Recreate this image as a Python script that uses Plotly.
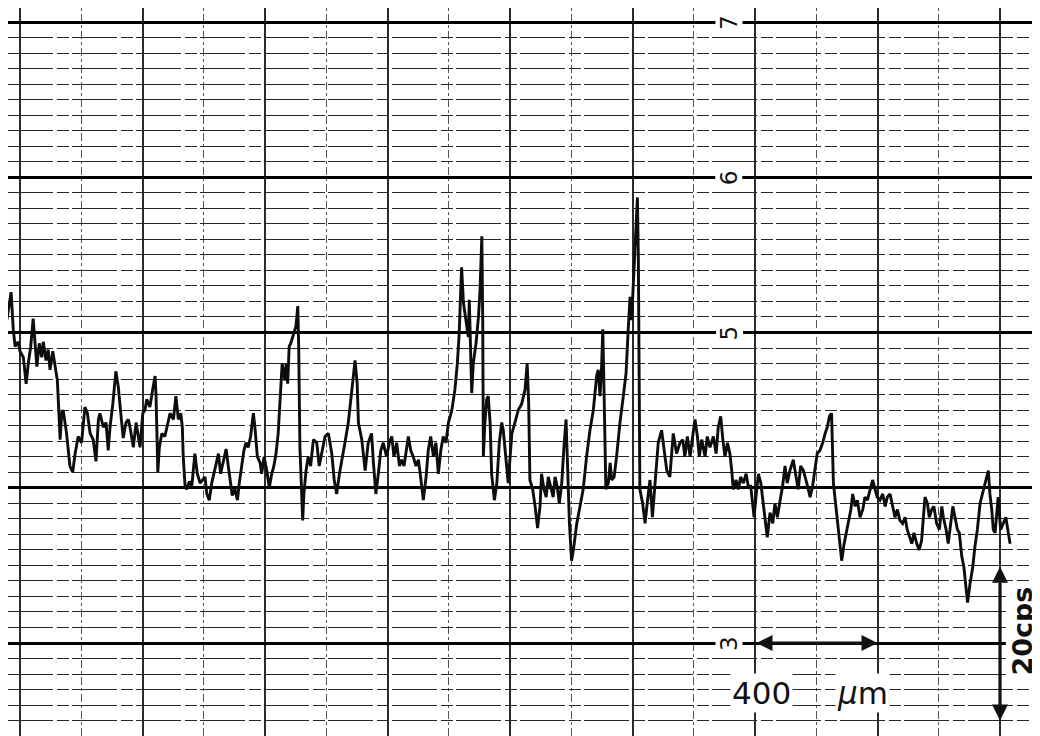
import plotly.graph_objects as go

# Trace: position along the scan (micrometres) and recorder reading (chart units)
position_um = [
    -43, -29, -22, -16, -6, 0, 11, 20, 27, 35, 43, 49, 55, 63, 71, 76, 85, 92, 98, 107,
    114, 122, 128, 131, 136, 141, 152, 163, 172, 180, 190, 201, 212, 220, 229, 239, 248, 256, 261, 272,
    281, 288, 294, 303, 313, 321, 329, 337, 346, 354, 361, 370, 379, 386, 392, 401, 408, 414, 424, 433,
    441, 444, 450, 455, 463, 473, 484, 490, 501, 509, 517, 525, 530, 533, 539, 544, 553, 561, 571, 579,
    588, 597, 604, 610, 618, 626, 631, 640, 648, 655, 664, 673, 680, 686, 693, 702, 710, 716, 724, 731,
    738, 745, 753, 762, 767, 775, 784, 789, 797, 806, 814, 822, 829, 836, 843, 849, 856, 865, 869, 874,
    879, 884, 892, 901, 907, 910, 914, 920, 923, 927, 934, 941, 949, 958, 969, 977, 985, 996, 1007, 1018,
    1026, 1034, 1043, 1050, 1061, 1072, 1083, 1094, 1101, 1105, 1116, 1127, 1137, 1148, 1154, 1162, 1170, 1178, 1186, 1197,
    1206, 1214, 1221, 1230, 1239, 1246, 1254, 1260, 1268, 1276, 1284, 1293, 1301, 1308, 1317, 1326, 1333, 1341, 1350, 1358,
    1366, 1374, 1382, 1391, 1399, 1410, 1420, 1428, 1434, 1439, 1442, 1448, 1456, 1464, 1467, 1472, 1475, 1480, 1489, 1497,
    1502, 1508, 1511, 1513, 1518, 1524, 1529, 1535, 1540, 1549, 1557, 1565, 1573, 1578, 1584, 1589, 1594, 1600, 1606, 1616,
    1627, 1638, 1649, 1656, 1661, 1665, 1674, 1682, 1690, 1698, 1703, 1711, 1718, 1725, 1733, 1741, 1747, 1754, 1761, 1769,
    1776, 1783, 1787, 1794, 1801, 1807, 1818, 1829, 1839, 1850, 1861, 1872, 1883, 1888, 1894, 1899, 1903, 1907, 1910, 1913,
    1921, 1927, 1932, 1940, 1948, 1959, 1970, 1979, 1986, 1992, 1997, 2003, 2010, 2016, 2019, 2022, 2024, 2033, 2041, 2048,
    2057, 2065, 2073, 2084, 2095, 2103, 2112, 2122, 2133, 2144, 2155, 2164, 2171, 2179, 2188, 2199, 2204, 2212, 2218, 2226,
    2237, 2244, 2253, 2264, 2273, 2280, 2288, 2295, 2302, 2310, 2318, 2324, 2329, 2338, 2346, 2353, 2362, 2371, 2378, 2386,
    2392, 2397, 2403, 2411, 2419, 2427, 2436, 2440, 2449, 2458, 2465, 2473, 2482, 2490, 2498, 2505, 2514, 2525, 2534, 2541,
    2549, 2558, 2569, 2580, 2588, 2596, 2603, 2612, 2621, 2629, 2636, 2643, 2650, 2656, 2661, 2667, 2672, 2678, 2683, 2691,
    2698, 2705, 2713, 2719, 2727, 2734, 2743, 2752, 2759, 2767, 2776, 2784, 2792, 2799, 2808, 2817, 2825, 2832, 2841, 2850,
    2857, 2865, 2873, 2882, 2890, 2897, 2904, 2912, 2919, 2928, 2936, 2944, 2949, 2955, 2963, 2969, 2977, 2984, 2993, 3002,
    3010, 3015, 3024, 3031, 3039, 3046, 3053, 3061, 3067, 3075, 3082, 3089, 3094, 3102, 3111, 3118, 3126, 3135, 3145, 3154,
    3162, 3167, 3173, 3178, 3184, 3189, 3194, 3202, 3211, 3219, 3227, 3233,
]
reading = [
    5.08, 5.26, 5.02, 4.91, 4.94, 4.88, 4.84, 4.67, 4.80, 4.91, 5.09, 4.95, 4.78, 4.93, 4.84, 4.94, 4.82, 4.89, 4.76, 4.88,
    4.80, 4.69, 4.44, 4.31, 4.48, 4.50, 4.35, 4.14, 4.10, 4.22, 4.33, 4.29, 4.52, 4.48, 4.35, 4.31, 4.17, 4.44, 4.48, 4.39,
    4.42, 4.24, 4.39, 4.54, 4.75, 4.65, 4.48, 4.32, 4.42, 4.44, 4.37, 4.26, 4.42, 4.33, 4.26, 4.48, 4.50, 4.57, 4.52, 4.63,
    4.72, 4.61, 4.10, 4.26, 4.35, 4.33, 4.44, 4.48, 4.44, 4.59, 4.44, 4.48, 4.39, 4.20, 4.01, 3.99, 4.04, 4.01, 4.22, 4.09,
    4.03, 4.05, 4.07, 3.96, 3.92, 4.03, 4.07, 4.14, 4.22, 4.09, 4.18, 4.25, 4.14, 4.05, 3.95, 3.99, 3.92, 4.03, 4.16, 4.24,
    4.29, 4.26, 4.33, 4.48, 4.39, 4.20, 4.16, 4.09, 4.20, 4.11, 4.00, 4.09, 4.14, 4.22, 4.35, 4.57, 4.80, 4.69, 4.80, 4.67,
    4.91, 4.93, 4.98, 5.04, 5.17, 4.91, 4.26, 3.86, 3.79, 3.96, 4.11, 4.20, 4.14, 4.31, 4.29, 4.14, 4.22, 4.33, 4.35, 4.22,
    4.05, 3.96, 4.09, 4.18, 4.29, 4.42, 4.63, 4.82, 4.67, 4.42, 4.31, 4.11, 4.29, 4.35, 4.16, 3.96, 4.09, 4.24, 4.29, 4.20,
    4.29, 4.33, 4.20, 4.29, 4.14, 4.18, 4.14, 4.22, 4.33, 4.24, 4.20, 4.14, 4.18, 4.07, 3.92, 4.07, 4.24, 4.33, 4.20, 4.29,
    4.09, 4.24, 4.33, 4.29, 4.42, 4.50, 4.63, 4.80, 4.99, 5.27, 5.42, 5.19, 5.08, 4.97, 5.21, 4.84, 4.61, 4.80, 4.93, 5.10,
    5.27, 5.62, 5.06, 4.20, 4.42, 4.57, 4.59, 4.42, 4.09, 3.92, 4.03, 4.29, 4.42, 4.37, 4.26, 4.14, 4.03, 4.20, 4.35, 4.42,
    4.50, 4.54, 4.63, 4.80, 4.54, 4.05, 3.99, 3.88, 3.74, 3.88, 4.09, 3.99, 3.94, 4.07, 4.01, 3.94, 4.07, 4.01, 3.90, 4.03,
    4.26, 4.44, 4.20, 3.77, 3.53, 3.60, 3.77, 3.88, 3.99, 4.20, 4.37, 4.50, 4.72, 4.76, 4.59, 4.78, 5.02, 4.63, 4.20, 3.99,
    4.03, 4.16, 4.05, 4.07, 4.20, 4.42, 4.59, 4.74, 5.02, 5.23, 5.08, 5.38, 5.62, 5.87, 5.49, 4.63, 3.99, 3.90, 3.77, 3.90,
    4.05, 3.81, 3.99, 4.29, 4.37, 4.24, 4.11, 4.07, 4.35, 4.22, 4.29, 4.31, 4.20, 4.33, 4.20, 4.37, 4.44, 4.33, 4.20, 4.31,
    4.20, 4.33, 4.26, 4.33, 4.22, 4.39, 4.46, 4.31, 4.20, 4.29, 4.22, 4.11, 3.99, 4.05, 3.99, 4.07, 4.03, 4.09, 4.01, 4.01,
    3.92, 3.81, 3.94, 4.09, 4.03, 3.90, 3.77, 3.68, 3.84, 3.77, 3.90, 3.81, 3.92, 4.01, 4.14, 4.03, 4.11, 4.18, 4.07, 3.99,
    4.14, 4.11, 4.03, 3.94, 4.01, 4.14, 4.22, 4.24, 4.29, 4.35, 4.39, 4.46, 4.48, 4.03, 3.94, 3.86, 3.77, 3.64, 3.53, 3.64,
    3.71, 3.77, 3.86, 3.96, 3.88, 3.92, 3.81, 3.86, 3.94, 3.92, 3.99, 4.05, 3.99, 3.94, 3.92, 3.96, 3.88, 3.94, 3.96, 3.88,
    3.81, 3.86, 3.79, 3.77, 3.81, 3.73, 3.68, 3.64, 3.71, 3.64, 3.60, 3.66, 3.79, 3.94, 3.90, 3.81, 3.86, 3.88, 3.77, 3.73,
    3.88, 3.81, 3.73, 3.64, 3.77, 3.88, 3.81, 3.73, 3.71, 3.56, 3.49, 3.36, 3.26, 3.38, 3.49, 3.62, 3.73, 3.90, 3.99, 4.05,
    4.11, 3.96, 3.86, 3.73, 3.71, 3.86, 3.94, 3.73, 3.77, 3.81, 3.71, 3.64,
]

# Chart scale labels printed on the paper
scale_labels = ["7", "6", "5", "3"]
scale_values = [7, 6, 5, 3]
label_position_um = 2315

# Scale bars
length_bar_um = [2400, 2800]      # 400 um
length_bar_level = 3
count_bar_um = 3200
count_bar_levels = [3.5, 2.5]     # 20 cps per chart unit

# visible window (the page adds an 8 px body margin, compensated here)
X_RANGE = [-39.2, 3356.7]
Y_RANGE = [2.3494, 7.0902]

fig = go.Figure()

fig.add_trace(go.Scatter(
    x=position_um, y=reading, mode="lines",
    line=dict(color="#0d0d0d", width=2.9),
    hoverinfo="skip", showlegend=False,
))

fig.update_layout(
    width=1040, height=736,
    margin=dict(l=0, r=0, t=0, b=0),
    paper_bgcolor="white", plot_bgcolor="white",
    showlegend=False,
    xaxis=dict(
        range=X_RANGE, showticklabels=False, ticks="", zeroline=False, showline=False,
        tick0=0, dtick=400, showgrid=True, gridcolor="#2a2a2a", gridwidth=1.5,
        minor=dict(tick0=0, dtick=200, showgrid=True, gridcolor="#555555",
                   gridwidth=1.2, griddash="3px,3px,8px,3px", ticks=""),
    ),
    yaxis=dict(
        range=Y_RANGE, showticklabels=False, ticks="", zeroline=False, showline=False,
        tick0=0, dtick=1, showgrid=True, gridcolor="#000000", gridwidth=3,
        minor=dict(tick0=0, dtick=0.1, showgrid=True, gridcolor="#262626",
                   gridwidth=1.3, griddash="45px,4px,12px,3px", ticks=""),
    ),
    yaxis2=dict(
        range=Y_RANGE, overlaying="y", anchor="x", side="right",
        showticklabels=False, ticks="", zeroline=False, showline=False,
        tick0=0, dtick=0.5, showgrid=True, gridcolor="#111111", gridwidth=2,
    ),
)

for txt, val in zip(scale_labels, scale_values):
    fig.add_annotation(
        x=label_position_um, y=val, xref="x", yref="y", text=txt, showarrow=False,
        textangle=-90, bgcolor="white", borderpad=0,
        font=dict(family="DejaVu Sans", size=23, color="#111111"),
    )

# 400 um double-headed arrow
fig.add_annotation(
    x=length_bar_um[1], y=length_bar_level, ax=length_bar_um[0], ay=length_bar_level,
    xref="x", yref="y", axref="x", ayref="y", text="", showarrow=True,
    arrowhead=2, startarrowhead=2, arrowside="end+start", arrowwidth=3.2,
    arrowsize=1, startarrowsize=1, arrowcolor="#111111",
)
fig.add_annotation(
    x=2420, y=2.678, xref="x", yref="y", text="400", showarrow=False, bgcolor="white",
    font=dict(family="DejaVu Sans", size=31, color="#111111"),
)
fig.add_annotation(
    x=2750, y=2.678, xref="x", yref="y", text="<i>μ</i>m", showarrow=False, bgcolor="white",
    font=dict(family="DejaVu Sans", size=31, color="#111111"),
)

# 20 cps double-headed arrow
fig.add_annotation(
    x=count_bar_um, y=count_bar_levels[1], ax=count_bar_um, ay=count_bar_levels[0],
    xref="x", yref="y", axref="x", ayref="y", text="", showarrow=True,
    arrowhead=2, startarrowhead=2, arrowside="end+start", arrowwidth=3.2,
    arrowsize=1, startarrowsize=1, arrowcolor="#111111",
)
fig.add_annotation(
    x=3275, y=3.08, xref="x", yref="y", text="<b>20cps</b>", showarrow=False,
    textangle=-90, bgcolor="white",
    font=dict(family="DejaVu Sans", size=27, color="#111111"),
)

fig.write_html("out.html")
